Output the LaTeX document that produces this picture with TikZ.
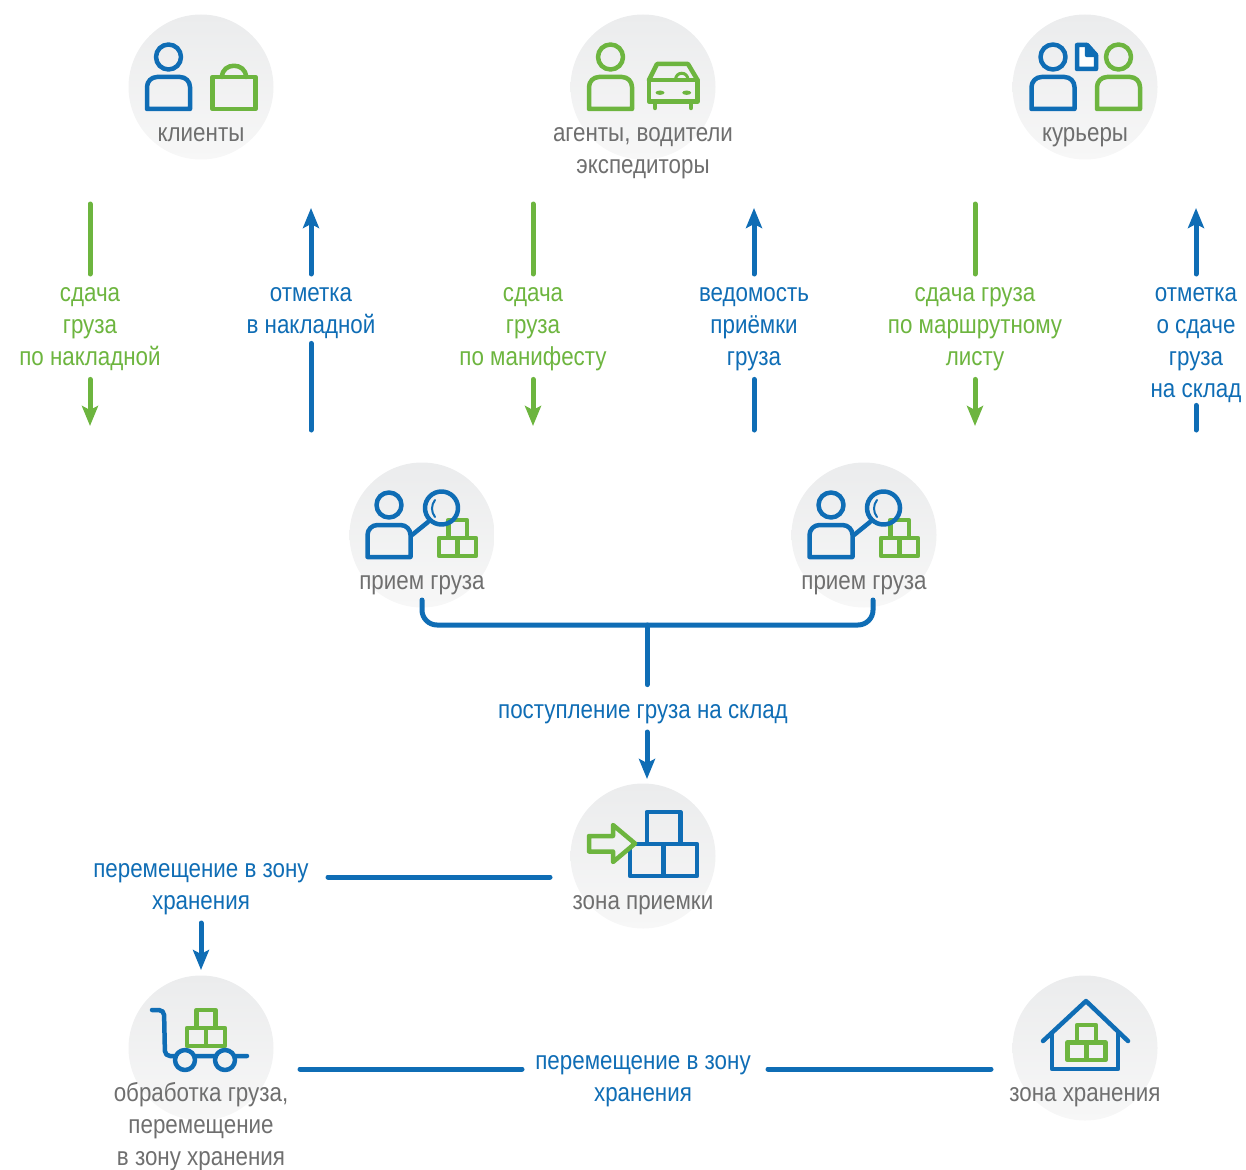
\documentclass[tikz,border=0pt]{standalone}
\usepackage{fontspec}
\setmainfont[FakeStretch=0.86]{Liberation Sans}
\usetikzlibrary{arrows.meta,calc}
\definecolor{cblue}{HTML}{0F6DB5}
\definecolor{cgreen}{HTML}{6DB53F}
\definecolor{cgray}{HTML}{6F6F6F}
\definecolor{ctop}{HTML}{EBECED}
\definecolor{cbot}{HTML}{F7F7F7}
\definecolor{cfill}{HTML}{F0F1F1}
\tikzset{
  x=1pt,y=-1pt,
  disc/.style={circle,draw=none,minimum size=145pt,inner sep=0pt,top color=ctop,bottom color=cbot},
  txt/.style={font=\fontsize{26}{32}\selectfont,align=center,anchor=north,inner xsep=0pt},
  graylab/.style={txt,text=cgray,inner ysep=0pt},
  bluelab/.style={txt,text=cblue,inner ysep=4pt},
  greenlab/.style={txt,text=cgreen,inner ysep=4pt},
  icon/.style={line width=4.5pt,line join=round,line cap=round},
  conn/.style={line width=5pt,line cap=round},
  tip/.style={-{Stealth[length=20pt,width=16pt,inset=4pt]}},
}
\newcommand{\personicon}[3]{%
  \begin{scope}[shift={(#1,#2)}]
    \draw[icon,#3] (0,0) circle (12.5);
    \draw[icon,#3] (-21.5,52) [rounded corners=10] -- (-21.5,20) -- (21.5,20) [sharp corners] -- (21.5,52) -- cycle;
  \end{scope}}
\newcommand{\boxesicon}[5]{% x-left, y-bottom, w, h, colour
  \begin{scope}[shift={(#1,#2)}]
    \draw[icon,#5] (0.5*#3,-#4) rectangle (1.5*#3,-2*#4);
    \draw[icon,#5] (0,0) rectangle (#3,-#4);
    \draw[icon,#5] (#3,0) rectangle (2*#3,-#4);
  \end{scope}}
\newcommand{\priemicon}[1]{%
  \begin{scope}[shift={(#1,0)}]
    \boxesicon{17}{556}{18.5}{18}{cgreen}
    \personicon{-33}{505}{cblue}
    \draw[icon,cblue] (-10,535) -- (6,522);
    \draw[icon,cblue] (19.5,508) circle (16.5);
    \draw[cblue,line width=2pt,line cap=round] (13,500) .. controls (9,505) and (9,512) .. (13,517);
  \end{scope}}
\begin{document}
\begin{tikzpicture}
\path[use as bounding box] (0,0) rectangle (1246,1169);
% discs
\node[disc] (d1) at (201,87) {};
\node[disc] (d2) at (643,87) {};
\node[disc] (d3) at (1085,87) {};
\node[disc] (d4) at (422,535) {};
\node[disc] (d5) at (864,535) {};
\node[disc] (d6) at (643,856) {};
\node[disc] (d7) at (201,1048) {};
\node[disc] (d8) at (1085,1048) {};
% clients icon
\personicon{168.5}{57}{cblue}
\draw[icon,cgreen] (212.5,77) rectangle (255.5,109);
\draw[icon,cgreen] (222,77) .. controls (222,62) and (246,62) .. (246,77);
% agents icon
\personicon{610.5}{57}{cgreen}
\draw[icon,cgreen] (649,80) -- (657,64) -- (688,64) -- (697.5,80);
\draw[icon,cgreen] (649,80) rectangle (697.5,101.5);
\draw[icon,cgreen] (655,101.5) -- (655,108);
\draw[icon,cgreen] (691,101.5) -- (691,108);
\fill[cgreen] (660,92.7) ellipse (4.5 and 2.2);
\fill[cgreen] (686.7,92.7) ellipse (4.5 and 2.2);
\draw[cgreen,line width=3pt] (675.5,80) .. controls (675.5,71) and (688,71) .. (688,80);
% couriers icon
\personicon{1053}{57}{cblue}
\personicon{1118.5}{57}{cgreen}
\draw[icon,cblue,fill=white] (1077,45) -- (1087,45) -- (1096,55) -- (1096,69) -- (1077,69) -- cycle;
\draw[icon,cblue,fill=cblue] (1087,45) -- (1087,55) -- (1096,55) -- cycle;
% reception icons
\priemicon{422}
\priemicon{864}
% receiving zone icon
\boxesicon{630}{876}{33.5}{32}{cblue}
\draw[icon,cgreen,fill=cfill] (589,836) -- (613,836) -- (613,825) -- (635,843.5) -- (613,862) -- (613,851.5) -- (589,851.5) -- cycle;
% trolley icon
\boxesicon{187}{1046}{19}{18}{cgreen}
\draw[icon,cblue] (152,1010) [rounded corners=5] -- (164,1010) -- (165,1056) -- (247,1056);
\draw[icon,cblue,fill=cfill] (185,1060) circle (10);
\draw[icon,cblue,fill=cfill] (225,1060) circle (10);
% house icon
\boxesicon{1067.5}{1060}{19}{17.5}{cgreen}
\draw[icon,cblue] (1043,1041) -- (1086,1001) -- (1128,1041);
\draw[icon,cblue] (1052,1033) -- (1052,1069) -- (1118,1069) -- (1118,1033);
% disc labels
\node[graylab] (t1) at (201,118.6) {\strut клиенты\strut};
\node[graylab] (t2) at (643,118.6) {\strut агенты, водители\\экспедиторы\strut};
\node[graylab] (t3) at (1085,118.6) {\strut курьеры\strut};
\node[graylab] (t4) at (422,566.6) {\strut прием груза\strut};
\node[graylab] (t5) at (864,566.6) {\strut прием груза\strut};
\node[graylab] (t6) at (643,887) {\strut зона приемки\strut};
\node[graylab] (t7) at (201,1079) {\strut обработка груза,\\перемещение\\в зону хранения\strut};
\node[graylab] (t8) at (1085,1079) {\strut зона хранения\strut};
% upper labels
\node[greenlab] (l1) at (90,275) {\strut сдача\\груза\\по накладной\strut};
\node[bluelab] (l2) at (311,275) {\strut отметка\\в накладной\strut};
\node[greenlab] (l3) at (533,275) {\strut сдача\\груза\\по манифесту\strut};
\node[bluelab] (l4) at (754,275) {\strut ведомость\\приёмки\\груза\strut};
\node[greenlab] (l5) at (975,275) {\strut сдача груза\\по маршрутному\\листу\strut};
\node[bluelab] (l6) at (1196,275) {\strut отметка\\о сдаче\\груза\\на склад\strut};
% free ends
\coordinate (a1) at (90,204);   \coordinate (b1) at (90,426);
\coordinate (a2) at (311,208);  \coordinate (b2) at (311,430);
\coordinate (a3) at (533,204);  \coordinate (b3) at (533,426);
\coordinate (a4) at (754,208);  \coordinate (b4) at (754,430);
\coordinate (a5) at (975,204);  \coordinate (b5) at (975,426);
\coordinate (a6) at (1196,208); \coordinate (b6) at (1196,430);
\draw[conn,cgreen] (a1) -- ([yshift=1pt]l1.north);
\draw[conn,cgreen,tip] (l1.south) -- (b1);
\draw[conn,cblue] (b2) -- ([yshift=4pt]l2.south);
\draw[conn,cblue,tip] ([yshift=1pt]l2.north) -- (a2);
\draw[conn,cgreen] (a3) -- ([yshift=1pt]l3.north);
\draw[conn,cgreen,tip] (l3.south) -- (b3);
\draw[conn,cblue] (b4) -- (l4.south);
\draw[conn,cblue,tip] ([yshift=1pt]l4.north) -- (a4);
\draw[conn,cgreen] (a5) -- ([yshift=1pt]l5.north);
\draw[conn,cgreen,tip] (l5.south) -- (b5);
\draw[conn,cblue] (b6) -- ([yshift=6pt]l6.south);
\draw[conn,cblue,tip] ([yshift=1pt]l6.north) -- (a6);
% merge bracket
\node[bluelab] (l7) at (643,691.6) {\strut поступление груза на склад\strut};
\coordinate (m1) at (422,600);
\coordinate (m2) at (873,600);
\coordinate (m3) at (647,625);
\coordinate (m4) at (647,779);
\draw[conn,cblue] (m1) [rounded corners=15] -- (m1 |- m3) -- (m2 |- m3) -- (m2);
\draw[conn,cblue] (m3) -- ([yshift=7pt]l7.north -| m3);
\draw[conn,cblue,tip] (l7.south -| m3) -- (m4);
% lower part
\node[bluelab] (l8) at (201,850.6) {\strut перемещение в зону\\хранения\strut};
\node[bluelab] (l9) at (643,1042.6) {\strut перемещение в зону\\хранения\strut};
\coordinate (n1) at (328,877);
\coordinate (n2) at (550,877);
\coordinate (n3) at (201,970);
\coordinate (n4) at (300,1069);
\coordinate (n5) at (522,1069);
\coordinate (n6) at (768,1069);
\coordinate (n7) at (991,1069);
\draw[conn,cblue] (n1) -- (n2);
\draw[conn,cblue,tip] (l8.south) -- (n3);
\draw[conn,cblue] (n4) -- (n5);
\draw[conn,cblue] (n6) -- (n7);
\end{tikzpicture}
\end{document}
